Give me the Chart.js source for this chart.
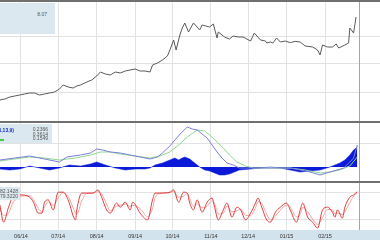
<!DOCTYPE html>
<html>
<head>
<meta charset="utf-8">
<script src="https://cdn.jsdelivr.net/npm/chart.js@4.4.1/dist/chart.umd.min.js"></script>
<style>
  html, body { margin: 0; padding: 0; background: #fff; }
  body { width: 380px; height: 240px; position: relative; overflow: hidden; font-family: "Liberation Sans", Arial, sans-serif; }
  .pane { position: absolute; left: 0; }
  .sep { position: absolute; left: 0; width: 380px; height: 2px; background: #707070; }
  .box { position: absolute; left: 0; background: #dce8ef; color: #555; font-size: 5px; line-height: 5px; z-index: 3; overflow: hidden; }
  .box span { position: absolute; white-space: nowrap; }
  #band { position: absolute; left: 0; top: 230px; width: 380px; height: 10px; background: #d3e3ed; }
</style>
</head>
<body>
<div class="sep" style="top:0"></div>
<div id="band"></div>
<canvas id="priceChart" class="pane" width="380" height="119" style="top:2px"></canvas>
<div class="sep" style="top:121px"></div>
<canvas id="macdChart" class="pane" width="380" height="58" style="top:123px"></canvas>
<div class="sep" style="top:181px"></div>
<canvas id="stochChart" class="pane" width="380" height="57" style="top:183px"></canvas>

<div class="box" style="top:3px; width:55px; height:31px">
  <span style="right:8px; top:9px">8.07</span>
</div>
<div class="box" style="top:124px; width:52px; height:19px">
  <span style="right:38px; top:4px; color:#1530c8; font-weight:bold">MACD(6,13,9)</span>
  <span style="right:4px; top:3px">0.2366</span>
  <span style="right:4px; top:7.5px">0.3614</span>
  <span style="right:4px; top:12px">0.1549</span>
  <span style="left:0; top:15px; width:4px; height:2px; background:#44cc44"></span>
</div>
<div class="box" style="top:187px; width:20px; height:13px">
  <span style="right:2px; top:2px">82.1428</span>
  <span style="right:2px; top:7px">79.3220</span>
</div>

<script>
// x axis in calendar days, day 0 = 1 Jun 2014
const monthDays = [0, 30, 61, 92, 122, 153, 183, 214, 245];
const monthLabels = ['06/14', '07/14', '08/14', '09/14', '10/14', '11/14', '12/14', '01/15', '02/15'];
const dayMin = -16.9;
const dayMax = 289.3;
const cursorDay = 272;

// price panel
const priceDays = [-17, -13, -9, -5, -1, 3, 7, 11, 15, 19, 23, 27, 31, 34, 38, 42, 45, 48, 53, 57,
  61, 64, 68, 72, 76, 80, 84, 88, 92, 96, 100, 104, 106, 110, 114, 118, 120, 123, 125, 128,
  130, 132, 135, 139, 144, 146, 149, 152, 155, 158, 159, 164, 168, 171, 175, 179, 185, 188, 193, 197,
  198, 201, 203, 206, 209, 213, 217, 221, 225, 229, 235, 239, 241, 243, 247, 251, 254, 256, 261, 264,
  265, 268, 270];
const priceValues = [5.58, 5.61, 5.67, 5.70, 5.73, 5.76, 5.79, 5.79, 5.73, 5.76, 5.79, 5.82, 5.91, 6.03, 5.97, 5.94, 6.00, 6.03, 6.12, 6.18,
  6.30, 6.42, 6.36, 6.33, 6.42, 6.39, 6.45, 6.48, 6.51, 6.45, 6.45, 6.42, 6.63, 6.69, 6.78, 6.90, 7.08, 7.38, 7.08, 7.53,
  7.74, 7.89, 7.62, 7.89, 7.68, 7.83, 7.80, 7.77, 7.86, 7.44, 7.62, 7.47, 7.41, 7.50, 7.47, 7.47, 7.35, 7.59, 7.38, 7.35,
  7.29, 7.32, 7.29, 7.44, 7.32, 7.35, 7.30, 7.34, 7.32, 7.20, 7.17, 7.08, 6.93, 7.23, 7.17, 7.17, 7.26, 7.14, 7.23, 7.29,
  7.74, 7.59, 8.07];
const priceGrid = [5.82, 6.66, 7.50];

// MACD panel
const macdDays = [-17, -5, 7, 19, 31, 37, 48, 56, 61, 66, 72, 80, 88, 96, 104, 110, 114, 120, 124, 129,
  134, 138, 142, 146, 150, 154, 158, 162, 166, 171, 176, 187, 201, 217, 225, 233, 241, 249, 260, 265, 268, 271];
const macdValues = [0.07, 0.09, 0.11, 0.08, 0.05, 0.10, 0.12, 0.14, 0.18, 0.17, 0.15, 0.14, 0.12, 0.10, 0.08, 0.10, 0.14, 0.21, 0.27, 0.34,
  0.40, 0.38, 0.37, 0.33, 0.29, 0.22, 0.15, 0.09, 0.04, 0.02, -0.01, -0.01, -0.01, -0.01, -0.03, -0.05, -0.08, -0.05, -0.01, 0.05, 0.09, 0.22];
const signalDays = [-17, -5, 7, 19, 31, 44, 56, 64, 72, 80, 92, 104, 112, 120, 128, 134, 142, 148, 152, 158,
  163, 168, 174, 181, 187, 201, 217, 229, 241, 249, 257, 265, 271];
const signalValues = [0.06, 0.08, 0.10, 0.09, 0.07, 0.09, 0.12, 0.15, 0.15, 0.13, 0.11, 0.09, 0.11, 0.15, 0.23, 0.30, 0.37, 0.36, 0.32, 0.25,
  0.19, 0.12, 0.05, 0.01, -0.01, -0.01, -0.01, -0.03, -0.06, -0.05, -0.03, 0.01, 0.10];
const histDays = [-17, -9, -1, 7, 15, 23, 31, 39, 48, 56, 61, 68, 76, 84, 92, 100, 104, 108, 114, 120,
  124, 127, 130, 132, 136, 140, 144, 148, 152, 156, 160, 164, 168, 172, 176, 185, 193, 201, 209, 217,
  225, 233, 241, 249, 257, 261, 265, 268, 271];
const histValues = [-0.02, -0.03, -0.02, 0.01, -0.01, -0.03, -0.01, 0.02, 0.01, 0.03, 0.05, 0.02, -0.01, -0.03, -0.02, -0.02, -0.01, 0.02, 0.04, 0.07,
  0.09, 0.07, 0.09, 0.10, 0.08, 0.04, 0.00, -0.03, -0.04, -0.06, -0.08, -0.08, -0.07, -0.05, -0.03, -0.02, -0.01, 0.00, -0.01, -0.03,
  -0.05, -0.04, -0.03, 0.00, 0.04, 0.07, 0.12, 0.17, 0.20];
const macdGrid = [0.24];

// stochastic panel
const stochDays = [-17, -14, -10, -6, -1, 7, 10, 14, 17, 19, 22, 26, 30, 34, 38, 44, 45, 49, 53, 58,
  62, 65, 69, 72, 77, 80, 84, 88, 90, 96, 102, 106, 108, 112, 120, 123, 127, 131, 134, 136,
  139, 142, 146, 150, 154, 156, 159, 163, 166, 170, 174, 177, 181, 185, 189, 191, 194, 198, 201, 205,
  209, 214, 217, 222, 225, 227, 231, 235, 239, 243, 247, 251, 253, 255, 259, 261, 265, 268, 271];
const kValues = [53, 15, 48, 73, 75, 70, 59, 35, 35, 59, 64, 42, 81, 81, 64, 20, 42, 79, 79, 79,
  86, 70, 42, 35, 57, 48, 59, 42, 59, 35, 20, 64, 79, 79, 81, 86, 59, 81, 79, 57,
  42, 64, 37, 59, 68, 48, 20, 42, 57, 26, 48, 42, 20, 35, 57, 68, 48, 20, 15, 37,
  48, 57, 42, 15, 42, 57, 26, 15, 2, 42, 48, 37, 26, 42, 24, 48, 70, 75, 82];
const dValues = [45, 30, 35, 60, 72, 73, 65, 45, 38, 48, 60, 52, 68, 80, 72, 35, 33, 62, 78, 79,
  82, 77, 55, 40, 50, 52, 55, 50, 52, 45, 27, 45, 68, 78, 80, 83, 70, 72, 78, 67,
  50, 55, 47, 50, 62, 56, 33, 35, 50, 38, 40, 44, 30, 30, 47, 60, 56, 33, 20, 28,
  42, 52, 48, 27, 32, 48, 38, 22, 10, 25, 43, 42, 33, 35, 32, 38, 58, 72, 79];
const stochGrid = [20, 80];

function pts(xs, ys) {
  return xs.map((x, i) => ({ x: x, y: ys[i] }));
}

// green cursor line across each panel
const cursorLine = {
  id: 'cursorLine',
  afterDatasetsDraw(chart) {
    const x = Math.round(chart.scales.x.getPixelForValue(cursorDay)) + 0.5;
    const area = chart.chartArea;
    const ctx = chart.ctx;
    ctx.save();
    ctx.strokeStyle = '#6ccf6c';
    ctx.lineWidth = 1;
    ctx.beginPath();
    ctx.moveTo(x, area.top);
    ctx.lineTo(x, area.bottom);
    ctx.stroke();
    ctx.restore();
  }
};

function panelOptions(yMin, yMax, gridVals, showX) {
  return {
    responsive: false,
    animation: false,
    devicePixelRatio: 1,
    layout: { padding: 0 },
    elements: { point: { radius: 0 }, line: { tension: 0 } },
    plugins: { legend: { display: false }, tooltip: { enabled: false } },
    scales: {
      x: {
        type: 'linear', min: dayMin, max: dayMax,
        afterBuildTicks: (s) => { s.ticks = monthDays.map(v => ({ value: v })); },
        afterFit: (s) => { s.height = showX ? 10 : 0; },
        grid: { color: '#e2e2e2', drawTicks: false },
        border: { display: false },
        ticks: {
          display: showX, padding: 3, color: '#333', maxRotation: 0, autoSkip: false,
          font: { size: 5.5, family: 'Liberation Sans' },
          callback: (v) => monthLabels[monthDays.indexOf(v)]
        }
      },
      y: {
        min: yMin, max: yMax,
        afterBuildTicks: (s) => { s.ticks = gridVals.map(v => ({ value: v })); },
        afterFit: (s) => { s.width = 0; },
        grid: { color: '#e2e2e2', drawTicks: false },
        border: { display: false },
        ticks: { display: false }
      }
    }
  };
}

new Chart(document.getElementById('priceChart'), {
  type: 'line',
  data: {
    datasets: [{
      data: pts(priceDays, priceValues),
      borderColor: '#5a5a5a', borderWidth: 1
    }]
  },
  options: panelOptions(4.95, 8.52, priceGrid, false),
  plugins: [cursorLine]
});

new Chart(document.getElementById('macdChart'), {
  type: 'line',
  data: {
    datasets: [
      { data: pts(macdDays, macdValues), borderColor: '#7a7ee0', borderWidth: 1, order: 0 },
      { data: pts(signalDays, signalValues), borderColor: '#8fd88f', borderWidth: 1, order: 1 },
      { data: pts(histDays, histValues), borderColor: '#0a1ad8', borderWidth: 0.5,
        backgroundColor: '#0a1ad8', fill: 'origin', order: 2 }
    ]
  },
  options: panelOptions(-0.14, 0.44, macdGrid, false),
  plugins: [cursorLine]
});

new Chart(document.getElementById('stochChart'), {
  type: 'line',
  data: {
    datasets: [
      { data: pts(stochDays, kValues), borderColor: '#e23b3b', borderWidth: 1,
        cubicInterpolationMode: 'monotone' },
      { data: pts(stochDays, dValues), borderColor: '#f2a3a3', borderWidth: 1,
        cubicInterpolationMode: 'monotone' }
    ]
  },
  options: panelOptions(-2.2, 101.2, stochGrid, true),
  plugins: [cursorLine]
});
</script>
</body>
</html>
